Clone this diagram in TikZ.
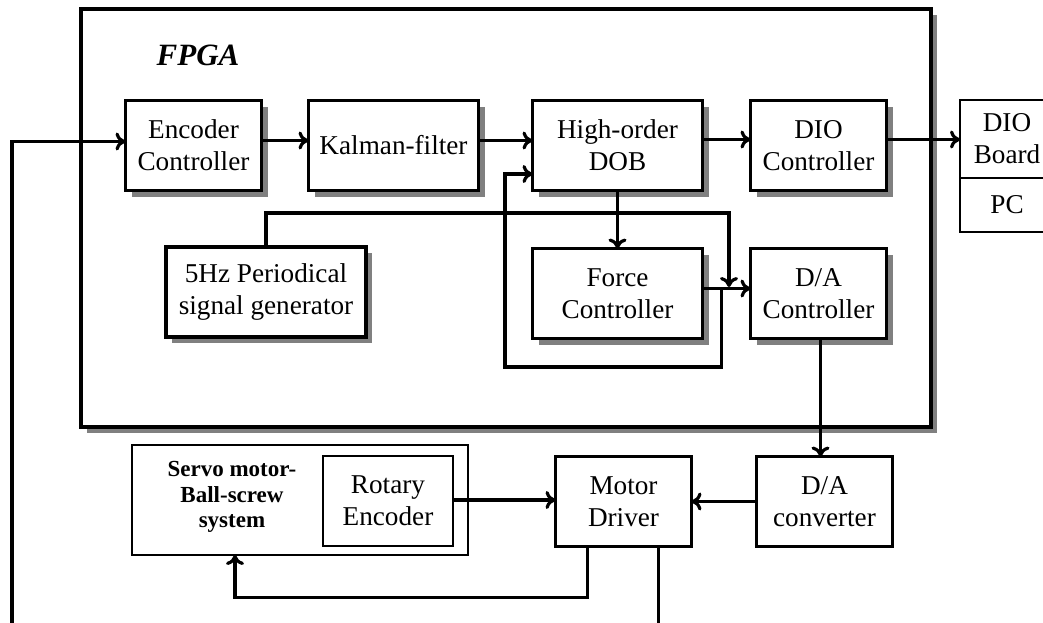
\documentclass[tikz,border=0pt]{standalone}
\usepackage{fontspec}
\setmainfont{Liberation Serif}
\usetikzlibrary{arrows.meta,positioning,shadows}

\begin{document}
\begin{tikzpicture}[x=0.5pt, y=-0.5pt, line width=1.6pt,
		>={Computer Modern Rightarrow[length=5pt,width=9pt]}]
	\tikzstyle{txt} = [font=\fontsize{13.6}{16}\selectfont, align=center]
	\tikzstyle{blk} = [draw, txt, inner sep=0pt, outer sep=0pt, minimum width=68pt, minimum height=45pt, line width=1.4pt]
	\tikzstyle{shblk} = [blk, fill=white, line width=1.7pt,
		drop shadow={shadow xshift=3pt, shadow yshift=-3pt, fill=black!50, opacity=1}]
	\tikzstyle{wideblk} = [shblk, minimum width=85pt]

	\useasboundingbox (0,0) rectangle (1043,622);
	\clip (0,0) rectangle (1043,622);

	% FPGA frame
	\node[draw, fill=white, line width=1.7pt, minimum width=425pt, minimum height=209pt,
		drop shadow={shadow xshift=3pt, shadow yshift=-3pt, fill=black!50, opacity=1}] (fpga) at (506,218) {};
	\node[font=\fontsize{15.5}{18}\selectfont\bfseries\itshape] (fpgalbl) at (198,55) {FPGA};

	\node[shblk] (enc) at (193.5,145.5) {Encoder\\Controller};
	\node[wideblk, right=23.5pt of enc] (kal) {Kalman-filter};
	\node[wideblk, right=27pt of kal] (dob) {High-order\\DOB};
	\node[shblk, right=24pt of dob] (dioc) {DIO\\Controller};
	\node[wideblk, below=29pt of dob] (force) {Force\\Controller};
	\node[shblk, below=29pt of dioc] (dac) {D/A\\Controller};
	\node[shblk, minimum width=100pt] (gen) at (266,292) {5Hz Periodical\\signal generator};

	% PC side
	\node[blk, minimum width=47pt, minimum height=39pt] (board) at (1007,139) {DIO\\Board};
	\node[blk, minimum width=47pt, minimum height=27pt, below=0pt of board] (pc) {PC};

	% plant side
	\node[blk] (dacv) at (824.5,501.5) {D/A\\converter};
	\node[blk, left=32.5pt of dacv] (drv) {Motor\\Driver};
	\node[blk, minimum width=168pt, minimum height=55pt] (servo) at (300,500) {};
	\node[blk, minimum width=65pt] (rot) at (388,501) {Rotary\\Encoder};
	\node[font=\fontsize{11.5}{12.8}\selectfont\bfseries, align=center] (servolbl) at (232,497) {Servo motor-\\Ball-screw\\system};

	\draw[->] ([yshift=2.5pt]enc.east) -- ([yshift=2.5pt]kal.west);
	\draw[->] ([yshift=2.5pt]kal.east) -- ([yshift=2.5pt]dob.west);
	\draw[->] ([yshift=3pt]dob.east) -- ([yshift=3pt]dioc.west);
	\draw[->] ([yshift=3pt]dioc.east) -- ([yshift=3pt]dioc.east -| board.west);
	\draw[->] (dob.south) -- (dob.south |- force.north);

	\coordinate (fo) at ([yshift=2.5pt]force.east);
	\draw[->] (fo) -- (fo -| dac.west);
	\draw[->] (gen.north) |- (729,213) -- (729,287);
	\draw[->] ([xshift=9.5pt]fo) |- (505,367) |- ([yshift=-14.25pt]dob.west);

	\draw[->] ([xshift=1pt]dac.south) -- ([xshift=1pt]dac.south |- dacv.north);
	\draw[->] (dacv.west) -- (dacv.west -| drv.east);
	\draw[->] ([yshift=0.5pt]rot.east) -- ([yshift=0.5pt]rot.east -| drv.west);
	\draw[->] ([xshift=-18pt]drv.south) -- ++(0,-25.5pt) -| ([xshift=-32.5pt]servo.south);
	\draw ([xshift=17.5pt]drv.south) -- ++(0,-50pt);

	\coordinate (fbin) at (12,640);
	\draw[->] (fbin) |- ([yshift=2pt]enc.west);
\end{tikzpicture}
\end{document}
